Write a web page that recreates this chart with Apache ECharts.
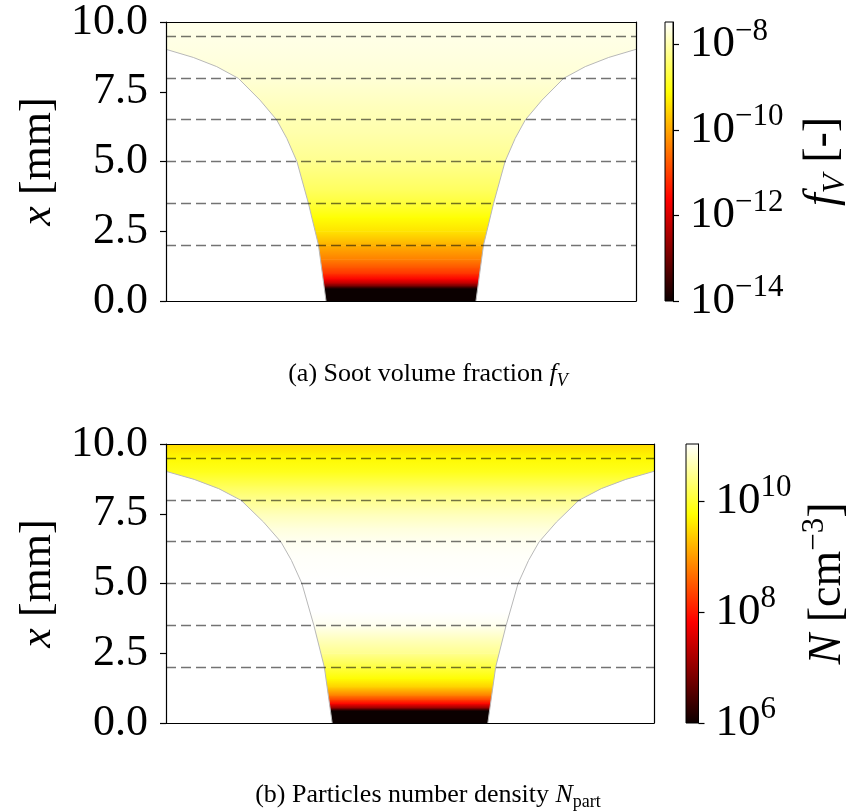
<!DOCTYPE html>
<html><head><meta charset="utf-8">
<script src="https://cdn.jsdelivr.net/npm/echarts@6/dist/echarts.min.js"></script>
<style>html,body{margin:0;padding:0;background:#fff}#c{width:852px;height:811px}</style>
</head><body><div id="c"></div>
<script>
// ---------- data ----------
const HEIGHT_TICKS = [0, 2.5, 5, 7.5, 10];          // x [mm] axis ticks
const DASH_HEIGHTS = [2, 3.5, 5, 6.5, 8, 9.5];       // dashed reference heights [mm]
// funnel boundary: height [mm] and half-width (fraction of the plot half-width)
const BOUND_H = [0, 2.0, 3.5, 5.0, 5.83, 6.49, 7.2, 7.98, 8.4, 8.73, 9.02];
const BOUND_W = [0.319, 0.351, 0.394, 0.443, 0.486, 0.529, 0.600, 0.692, 0.784, 0.884, 1.0];
// (a) soot volume fraction, log10 f_V along the height
const FV_H   = [0, 0.45, 0.55, 0.65, 0.8, 1.0, 1.2, 1.5, 2.0, 2.5, 3.0, 3.5, 4.0, 5.0, 6.0, 7.0, 8.0, 9.0, 10.0];
const FV_LOG = [-14, -14, -13.0, -12.3, -11.62, -11.1, -10.8, -10.37, -9.9, -9.4, -9.1, -8.75, -8.5, -8.2, -8.02, -7.9, -7.74, -7.66, -7.6];
const FV_TICKS = [-14, -12, -10, -8];
const FV_RANGE = [-14, -7.47];
// (b) particle number density, log10 N along the height
const N_H   = [0, 0.45, 0.55, 0.7, 0.85, 1.0, 1.3, 1.6, 2.0, 2.5, 3.0, 3.5, 4.0, 5.0, 6.0, 6.5, 7.0, 7.5, 8.0, 8.5, 9.0, 9.5, 10.0];
const N_LOG = [6, 6, 7.0, 7.84, 8.35, 8.79, 9.40, 9.75, 10.07, 10.47, 10.70, 10.95, 11.03, 11.03, 11.0, 10.96, 10.85, 10.68, 10.47, 10.2, 9.9, 9.72, 9.47];
const N_TICKS = [6, 8, 10];
const N_RANGE = [6, 11.03];
const CAPTION_A = '(a) Soot volume fraction {i|f}{sub|V}';
const CAPTION_B = '(b) Particles number density {i|N}{subr|part}';

// ---------- styling ----------
const SERIF = '"Liberation Serif", "DejaVu Serif", serif';
function hotColor(t){ // matplotlib "hot" colormap
  const a = 0.365079, b = 0.746032;
  const r = t < a ? 0.0416 + (1 - 0.0416) * t / a : 1;
  const g = t < a ? 0 : (t < b ? (t - a) / (b - a) : 1);
  const bl = t < b ? 0 : (t - b) / (1 - b);
  return 'rgb(' + Math.round(r*255) + ',' + Math.round(g*255) + ',' + Math.round(bl*255) + ')';
}
const HOT = [];
for (let k = 0; k <= 64; k++) HOT.push(hotColor(k / 64));

function bandRender(params, api){
  const i = params.dataIndexInside;
  if (i >= params.dataInsideLength - 1) return null;
  const pTop = api.coord([-1, api.value(0, i + 1)]);
  const pBot = api.coord([1, api.value(0, i)]);
  const cTop = api.visual('color', i + 1);
  const cBot = api.visual('color', i);
  return {type: 'rect', shape: {x: pTop[0], y: pTop[1], width: pBot[0] - pTop[0], height: pBot[1] - pTop[1] + 0.6},
    style: {fill: new echarts.graphic.LinearGradient(0, 0, 0, 1, [{offset: 0, color: cTop}, {offset: 1, color: cBot}])}};
}
function maskRender(params, api){
  if (params.dataIndexInside !== 0) return null;
  const left = [api.coord([-1, 0])], right = [api.coord([1, 0])];
  for (let k = 0; k < params.dataInsideLength; k++) {
    const w = api.value(0, k), h = api.value(1, k);
    left.push(api.coord([-w, h]));
    right.push(api.coord([w, h]));
  }
  return {type: 'group', children: [
    {type: 'polygon', shape: {points: left}, style: {fill: '#fff'}},
    {type: 'polygon', shape: {points: right}, style: {fill: '#fff'}}
  ]};
}
function colorbarRender(params, api){
  const p0 = api.coord([api.value(0), api.value(3)]);
  const p1 = api.coord([api.value(2), api.value(1)]);
  const stops = HOT.map((c, k) => ({offset: k / (HOT.length - 1), color: HOT[HOT.length - 1 - k]}));
  return {type: 'rect', shape: {x: p0[0], y: p0[1], width: p1[0] - p0[0], height: p1[1] - p0[1]},
    style: {fill: new echarts.graphic.LinearGradient(0, 0, 0, 1, stops), stroke: '#000', lineWidth: 1}};
}

const frameLine = {show: true, onZero: false, lineStyle: {color: '#000', width: 1.2}};
function mainX(grid, pos){
  return {type: 'value', gridIndex: grid, min: -1, max: 1, position: pos, z: 10,
    axisLine: frameLine, axisTick: {show: false}, axisLabel: {show: false}, splitLine: {show: false}};
}
function mainYLeft(grid){
  return {type: 'value', gridIndex: grid, min: HEIGHT_TICKS[0], max: HEIGHT_TICKS[HEIGHT_TICKS.length-1],
    interval: HEIGHT_TICKS[1] - HEIGHT_TICKS[0], position: 'left', z: 10,
    axisLine: frameLine, axisTick: {show: true, inside: false, length: 6, lineStyle: {color: '#000', width: 1.2}},
    axisLabel: {formatter: v => v.toFixed(1), fontFamily: SERIF, fontSize: 44, color: '#000', margin: 18},
    splitLine: {show: false},
    name: '{i|x} [mm]', nameLocation: 'middle', nameRotate: 90, nameGap: 106,
    nameTextStyle: {fontFamily: SERIF, fontSize: 44, color: '#000',
      rich: {i: {fontFamily: SERIF, fontSize: 44, fontStyle: 'italic', color: '#000'}}}};
}
function mainYRight(grid){
  return {type: 'value', gridIndex: grid, min: 0, max: 10, position: 'right', z: 10,
    axisLine: frameLine, axisTick: {show: false}, axisLabel: {show: false}, splitLine: {show: false}};
}
const supRich = {
  b: {fontFamily: SERIF, fontSize: 45, color: '#000'},
  s: {fontFamily: SERIF, fontSize: 31, color: '#000', padding: [0, 0, 26, 0]}
};
function cbY(grid, range, ticks, name, gap){
  return {type: 'value', gridIndex: grid, min: range[0], max: range[1], position: 'right', z: 10,
    axisLine: {show: true, onZero: false, lineStyle: {color: '#000', width: 1}},
    axisTick: {show: true, customValues: ticks, inside: false, length: 6, lineStyle: {color: '#000', width: 1.2}},
    axisLabel: {customValues: ticks, margin: 17,
      formatter: v => '{b|10}{s|' + (v < 0 ? '\u2212' + (-v) : v) + '}', rich: supRich},
    splitLine: {show: false},
    name: name, nameLocation: 'middle', nameRotate: 90, nameGap: gap,
    nameTextStyle: {fontFamily: SERIF, fontSize: 46, color: '#000',
      rich: {
        i: {fontFamily: SERIF, fontSize: 46, fontStyle: 'italic', color: '#000'},
        t: {fontFamily: SERIF, fontSize: 46, color: '#000'},
        sub: {fontFamily: SERIF, fontSize: 31, fontStyle: 'italic', color: '#000', padding: [26, 0, 0, 0]},
        sup: {fontFamily: SERIF, fontSize: 31, color: '#000', padding: [0, 0, 26, 0]}
      }}};
}

const dashMark = {silent: true, symbol: ['none', 'none'], label: {show: false}, animation: false,
  lineStyle: {type: [10, 5], color: 'rgba(0,0,0,0.55)', width: 1.3},
  emphasis: {disabled: true},
  data: DASH_HEIGHTS.map(y => ({yAxis: y}))};

function panelSeries(grid, heights, logs){
  const xi = grid * 2, yi = grid * 2;
  return [
    {type: 'custom', xAxisIndex: xi, yAxisIndex: yi, z: 1, renderItem: bandRender, silent: true,
      data: heights.map((h, i) => [h, logs[i]]), encode: {y: 0}},
    {type: 'custom', xAxisIndex: xi, yAxisIndex: yi, z: 2, renderItem: maskRender, silent: true,
      data: BOUND_H.map((h, i) => [BOUND_W[i], h]), encode: {x: 0, y: 1}},
    {type: 'line', xAxisIndex: xi, yAxisIndex: yi, z: 3, symbol: 'none', silent: true,
      lineStyle: {color: '#b8b8b8', width: 1}, data: BOUND_H.map((h, i) => [-BOUND_W[i], h]), markLine: dashMark},
    {type: 'line', xAxisIndex: xi, yAxisIndex: yi, z: 3, symbol: 'none', silent: true,
      lineStyle: {color: '#b8b8b8', width: 1}, data: BOUND_H.map((h, i) => [BOUND_W[i], h])}
  ];
}

const chart = echarts.init(document.getElementById('c'), null, {renderer: 'canvas'});
const capRich = {
  i: {fontFamily: SERIF, fontSize: 26, fontStyle: 'italic', color: '#000'},
  sub: {fontFamily: SERIF, fontSize: 18, fontStyle: 'italic', color: '#000', padding: [14, 0, 0, 0]},
  subr: {fontFamily: SERIF, fontSize: 18, color: '#000', padding: [14, 0, 0, 0]}
};
chart.setOption({
  animation: false,
  backgroundColor: '#fff',
  grid: [
    {left: 166, top: 22, width: 470, height: 279},
    {left: 166, top: 444, width: 488, height: 279},
    {left: 665, top: 22, width: 14, height: 279},
    {left: 686, top: 444, width: 13, height: 279}
  ],
  xAxis: [
    mainX(0, 'bottom'), mainX(0, 'top'), mainX(1, 'bottom'), mainX(1, 'top'),
    {type: 'value', gridIndex: 2, min: 0, max: 1, show: false},
    {type: 'value', gridIndex: 3, min: 0, max: 1, show: false}
  ],
  yAxis: [
    mainYLeft(0), mainYRight(0), mainYLeft(1), mainYRight(1),
    cbY(2, FV_RANGE, FV_TICKS, '{i|f}{sub|V} {t|[-]}', 121),
    cbY(3, N_RANGE, N_TICKS, '{i|N} {t|[cm}{sup|\u22123}{t|]}', 101)
  ],
  visualMap: [
    {show: false, seriesIndex: 0, dimension: 1, min: FV_RANGE[0], max: FV_RANGE[1], inRange: {color: HOT}},
    {show: false, seriesIndex: 4, dimension: 1, min: N_RANGE[0], max: N_RANGE[1], inRange: {color: HOT}}
  ],
  series: [
    ...panelSeries(0, FV_H, FV_LOG),
    ...panelSeries(1, N_H, N_LOG),
    {type: 'custom', xAxisIndex: 4, yAxisIndex: 4, renderItem: colorbarRender, silent: true,
      data: [[0, FV_RANGE[0], 1, FV_RANGE[1]]], encode: {x: [0, 2], y: [1, 3]}},
    {type: 'custom', xAxisIndex: 5, yAxisIndex: 5, renderItem: colorbarRender, silent: true,
      data: [[0, N_RANGE[0], 1, N_RANGE[1]]], encode: {x: [0, 2], y: [1, 3]}}
  ],
  graphic: [
    {type: 'text', x: 428, y: 374, silent: true,
      style: {text: CAPTION_A, fontFamily: SERIF, fontSize: 26, fill: '#000', align: 'center', verticalAlign: 'middle', rich: capRich}},
    {type: 'text', x: 428, y: 795, silent: true,
      style: {text: CAPTION_B, fontFamily: SERIF, fontSize: 26, fill: '#000', align: 'center', verticalAlign: 'middle', rich: capRich}}
  ]
});
</script></body></html>
